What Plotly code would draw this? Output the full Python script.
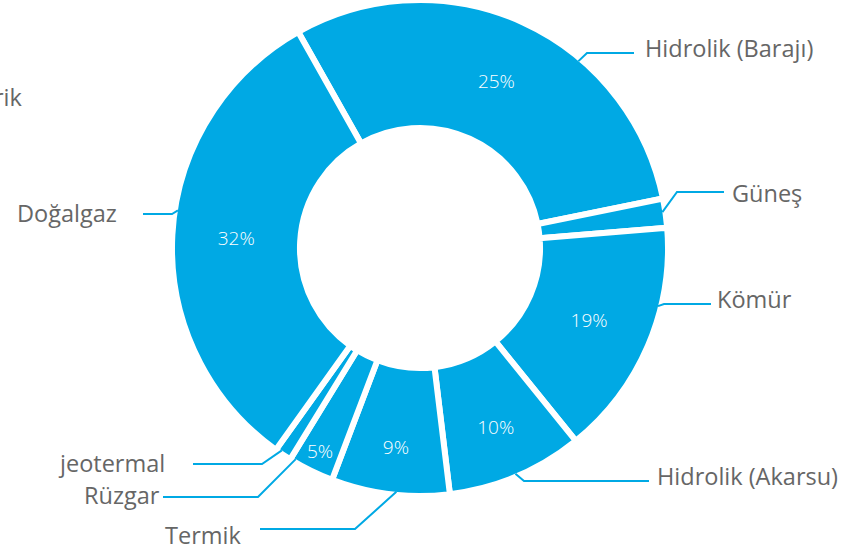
import math
import plotly.graph_objects as go

# ---- data ----
categories = ["Hidrolik (Barajı)", "Güneş", "Kömür", "Hidrolik (Akarsu)",
              "Termik", "Rüzgar", "jeotermal", "Doğalgaz"]
slice_share = [30.0, 1.9, 15.5, 8.9, 7.7, 3.0, 1.1, 32.0]      # drawn share of the ring
printed_pct = ["25%", "", "19%", "10%", "9%", "5%", "", "32%"]  # percentages printed on slices
cut_label = "Elektrik"

# ---- style / layout constants ----
W, H = 850, 552
CX, CY = 420, 248          # donut centre, px from top-left
R_OUT = 248                # plotted outer radius (px)
SEP = 6                    # white separator width
HOLE = 0.484
ROTATION = -29.4
BLUE = "#00A9E4"
GREY = "#666666"
LABEL_FONT = dict(family="Open Sans", size=23.5, color=GREY)

# leader styling: anchor fraction inside slice, elbow point, line end, label pos, side
leaders = {
    "Hidrolik (Barajı)": dict(f=0.646, elbow=(587, 53), end=(634, 53), lab=(643, 48), side="left"),
    "Güneş":             dict(f=0.45, elbow=(677, 192), end=(724, 192), lab=(730, 193), side="left"),
    "Kömür":             dict(f=0.33, elbow=(664, 304), end=(711, 304), lab=(715, 299), side="left"),
    "Hidrolik (Akarsu)": dict(f=0.5, elbow=(524, 481), end=(649, 481), lab=(655, 476), side="left"),
    "Termik":            dict(f=0.45, elbow=(355, 529), end=(260, 529), lab=(243, 535), side="right"),
    "Rüzgar":            dict(f=0.9, elbow=(258, 497), end=(163, 497), lab=(162, 495), side="right"),
    "jeotermal":         dict(f=0.7, elbow=(262, 464), end=(193, 464), lab=(167, 463), side="right"),
    "Doğalgaz":          dict(f=0.55, elbow=(172, 214), end=(143, 214), lab=(119, 213), side="right"),
}

def px(x, y):
    return x / W, 1 - y / H

fig = go.Figure()
fig.add_trace(go.Pie(
    labels=categories,
    values=slice_share,
    text=printed_pct,
    textinfo="text",
    textposition="inside",
    insidetextorientation="horizontal",
    insidetextfont=dict(family="Open Sans", size=19, color="white", weight=300),
    hole=HOLE,
    sort=False,
    direction="clockwise",
    rotation=ROTATION,
    marker=dict(colors=[BLUE] * len(categories), line=dict(color="white", width=SEP)),
    domain=dict(x=[(CX - R_OUT) / W, (CX + R_OUT) / W],
                y=[max(0, (H - CY - R_OUT) / H), min(1, (H - CY + R_OUT) / H)]),
    hoverinfo="label",
))

# leader lines computed from slice angles
total = sum(slice_share)
cum = 0.0
R_EDGE = R_OUT - SEP / 2
shapes, annotations = [], []
for cat, v in zip(categories, slice_share):
    a0 = ROTATION + cum / total * 360
    a1 = ROTATION + (cum + v) / total * 360
    cum += v
    ld = leaders[cat]
    ang = math.radians(a0 + ld["f"] * (a1 - a0))
    sx, sy = CX + R_EDGE * math.sin(ang), CY - R_EDGE * math.cos(ang)
    p0, p1, p2 = px(sx, sy), px(*ld["elbow"]), px(*ld["end"])
    shapes.append(dict(type="path", xref="paper", yref="paper",
                       path=f"M {p0[0]} {p0[1]} L {p1[0]} {p1[1]} L {p2[0]} {p2[1]}",
                       line=dict(color=BLUE, width=2)))
    lx, ly = px(*ld["lab"])
    annotations.append(dict(x=lx, y=ly, xref="paper", yref="paper", text=cat,
                            showarrow=False, xanchor=ld["side"], yanchor="middle",
                            font=LABEL_FONT))

ex, ey = px(24, 97)
annotations.append(dict(x=ex, y=ey, xref="paper", yref="paper", text=cut_label,
                        showarrow=False, xanchor="right", yanchor="middle", font=LABEL_FONT))

fig.update_layout(width=W, height=H, margin=dict(l=0, r=0, t=0, b=0),
                  paper_bgcolor="white", plot_bgcolor="white", showlegend=False,
                  shapes=shapes, annotations=annotations)

fig.write_html("out.html", config={"displayModeBar": False},
               post_script="document.body.style.margin='0';")
